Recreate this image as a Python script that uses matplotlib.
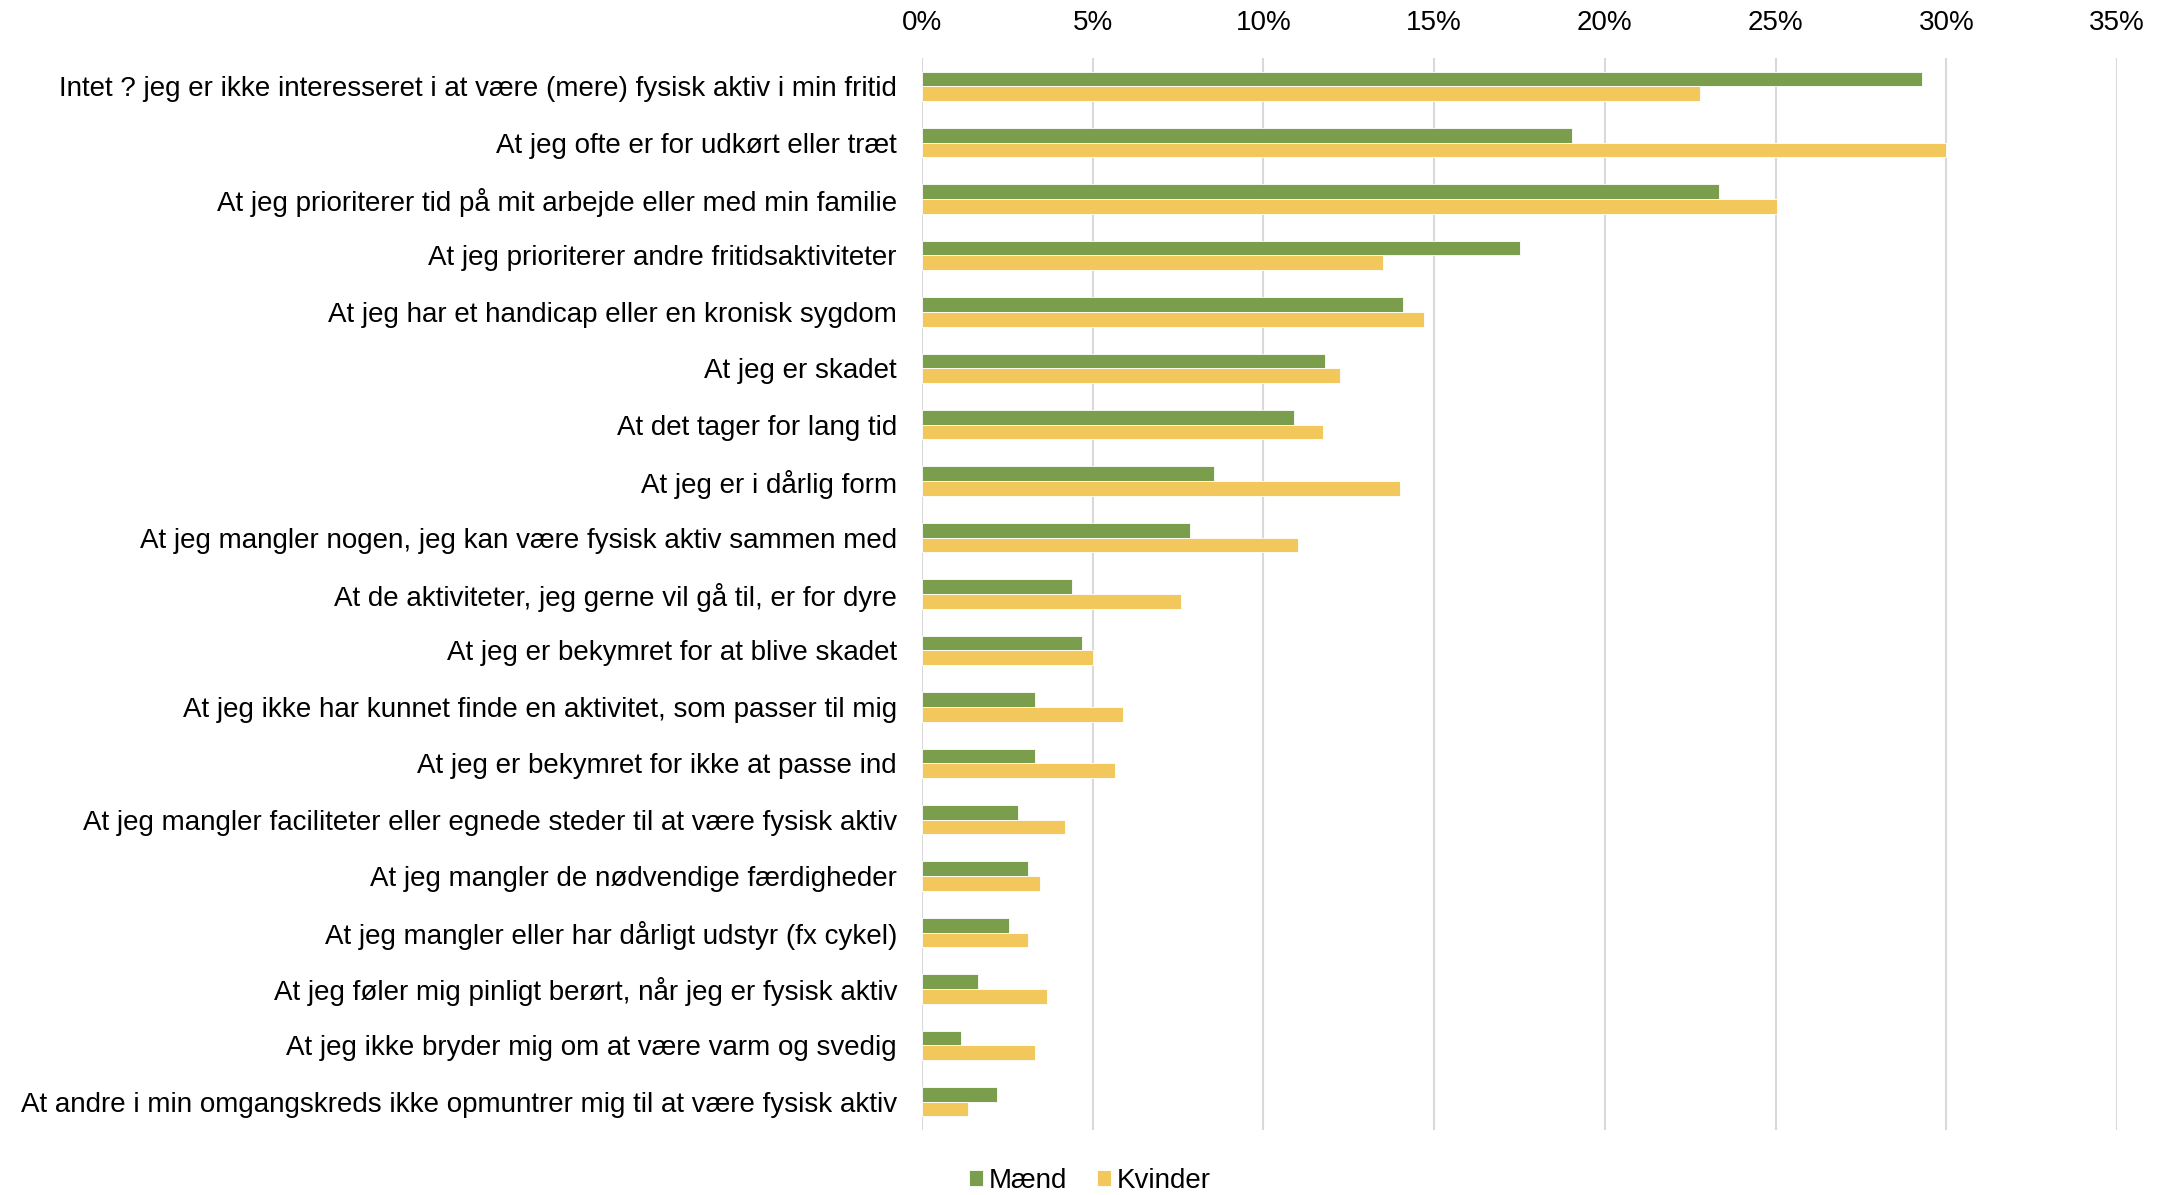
import numpy as np
import matplotlib
matplotlib.use('Agg')
import matplotlib.pyplot as plt
from matplotlib.ticker import PercentFormatter

plt.rcParams['font.family'] = ['Liberation Sans', 'DejaVu Sans']

categories = [
    'Intet ? jeg er ikke interesseret i at være (mere) fysisk aktiv i min fritid',
    'At jeg ofte er for udkørt eller træt',
    'At jeg prioriterer tid på mit arbejde eller med min familie',
    'At jeg prioriterer andre fritidsaktiviteter',
    'At jeg har et handicap eller en kronisk sygdom',
    'At jeg er skadet',
    'At det tager for lang tid',
    'At jeg er i dårlig form',
    'At jeg mangler nogen, jeg kan være fysisk aktiv sammen med',
    'At de aktiviteter, jeg gerne vil gå til, er for dyre',
    'At jeg er bekymret for at blive skadet',
    'At jeg ikke har kunnet finde en aktivitet, som passer til mig',
    'At jeg er bekymret for ikke at passe ind',
    'At jeg mangler faciliteter eller egnede steder til at være fysisk aktiv',
    'At jeg mangler de nødvendige færdigheder',
    'At jeg mangler eller har dårligt udstyr (fx cykel)',
    'At jeg føler mig pinligt berørt, når jeg er fysisk aktiv',
    'At jeg ikke bryder mig om at være varm og svedig',
    'At andre i min omgangskreds ikke opmuntrer mig til at være fysisk aktiv',
]
maend = [29.3, 19.05, 23.35, 17.5, 14.1, 11.8, 10.9, 8.55, 7.85, 4.4,
         4.7, 3.3, 3.3, 2.8, 3.1, 2.55, 1.65, 1.15, 2.2]
kvinder = [22.8, 30.0, 25.05, 13.5, 14.7, 12.25, 11.75, 14.0, 11.0, 7.6,
           5.0, 5.9, 5.65, 4.2, 3.45, 3.1, 3.65, 3.3, 1.35]

green = '#7A9E4B'
yellow = '#F2C75C'

fig = plt.figure(figsize=(21.69, 11.95), dpi=100)
ax = fig.add_axes([922 / 2169, 1 - 1130 / 1195, (2117 - 922) / 2169, (1130 - 58) / 1195])

y = np.arange(len(categories))
h = 0.26
ax.barh(y - h / 2, maend, height=h, color=green, label='Mænd', edgecolor='white', linewidth=0.6)
ax.barh(y + h / 2, kvinder, height=h, color=yellow, label='Kvinder', edgecolor='white', linewidth=0.6)

ax.set_ylim(len(categories) - 0.5, -0.5)
ax.set_xlim(0, 35)
ax.set_xticks(np.arange(0, 36, 5))
ax.xaxis.set_major_formatter(PercentFormatter(decimals=0))
ax.xaxis.tick_top()
ax.set_yticks(y)
ax.set_yticklabels(categories)
ax.tick_params(axis='x', length=0, pad=16, labelsize=20)
ax.tick_params(axis='y', length=0, pad=18, labelsize=20)
ax.grid(axis='x', color='#D9D9D9', linewidth=1.5)
ax.set_axisbelow(True)
for s in ax.spines.values():
    s.set_visible(False)

fig.legend(loc='lower center', bbox_to_anchor=(1090 / 2169, -0.02), ncol=2, frameon=False,
           fontsize=20, handlelength=0.5, handleheight=0.5, handletextpad=0.2, columnspacing=1.1)

fig.savefig('out.png', dpi=100)
